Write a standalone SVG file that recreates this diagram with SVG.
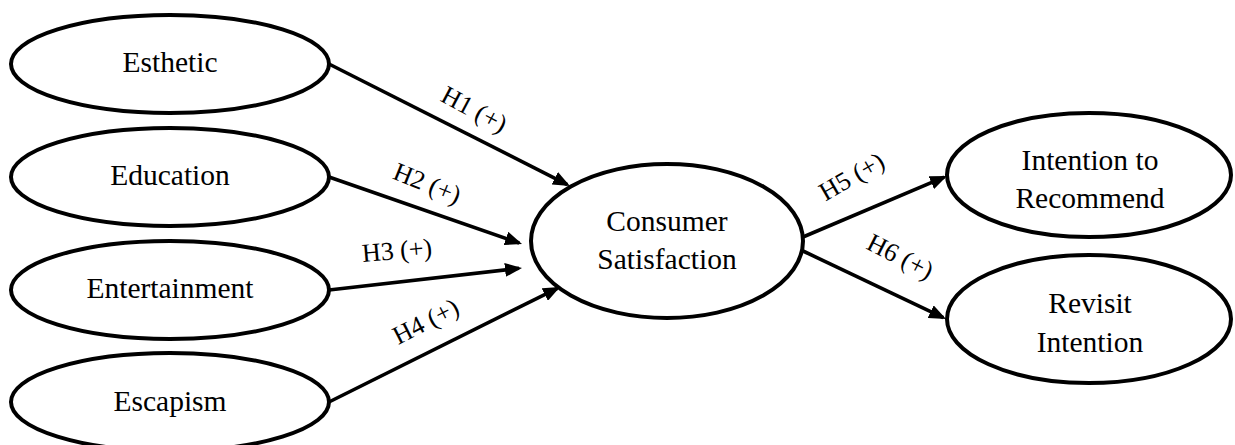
<svg xmlns="http://www.w3.org/2000/svg" width="1235" height="445" viewBox="0 0 1235 445">
<style>
  .node ellipse { fill: #ffffff; stroke: #000000; stroke-width: 4; }
  .node text { font-family: "Liberation Serif", "Times New Roman", serif; font-size: 29.5px; fill: #000000; text-anchor: middle; }
  .edge { fill: none; stroke: #000000; stroke-width: 3.6; marker-end: url(#arrow); }
  .lbl { font-family: "Liberation Serif", "Times New Roman", serif; font-size: 26px; fill: #000000; text-anchor: middle; }
</style>
<defs>
  <marker id="arrow" markerUnits="userSpaceOnUse" markerWidth="18" markerHeight="14" refX="14" refY="7" orient="auto">
    <path d="M0,0 L17,7 L0,14 z" fill="#000000"/>
  </marker>
</defs>
<rect x="0" y="0" width="1235" height="445" fill="#ffffff"/>
<g id="connectors">
  <path class="edge" d="M329,64 L567.3,184.6"/>
  <path class="edge" d="M329,177 L519.2,243"/>
  <path class="edge" d="M329,290 L519,268.3"/>
  <path class="edge" d="M329,402 L557.3,288.3"/>
  <path class="edge" d="M803,237 L944.2,177.2"/>
  <path class="edge" d="M803,251 L943.3,317.7"/>
  <text class="lbl" transform="translate(474,110) rotate(28)" x="0" y="8">H1 (+)</text>
  <text class="lbl" transform="translate(427,184) rotate(22)" x="0" y="8">H2 (+)</text>
  <text class="lbl" transform="translate(397,251) rotate(-5)" x="0" y="8">H3 (+)</text>
  <text class="lbl" transform="translate(426,322) rotate(-27)" x="0" y="8">H4 (+)</text>
  <text class="lbl" transform="translate(852,177) rotate(-30)" x="0" y="8">H5 (+)</text>
  <text class="lbl" transform="translate(900,257) rotate(27)" x="0" y="8">H6 (+)</text>
</g>
<g id="esthetic" class="node">
  <ellipse cx="170" cy="64" rx="159" ry="49"/>
  <text x="170" y="72">Esthetic</text>
</g>
<g id="education" class="node">
  <ellipse cx="170" cy="177" rx="159" ry="49"/>
  <text x="170" y="185">Education</text>
</g>
<g id="entertainment" class="node">
  <ellipse cx="170" cy="290" rx="159" ry="49"/>
  <text x="170" y="298">Entertainment</text>
</g>
<g id="escapism" class="node">
  <ellipse cx="170" cy="402" rx="159" ry="49"/>
  <text x="170" y="411">Escapism</text>
</g>
<g id="consumer-satisfaction" class="node">
  <ellipse cx="667" cy="241" rx="136" ry="77"/>
  <text x="667" y="231">Consumer</text>
  <text x="667" y="269">Satisfaction</text>
</g>
<g id="intention-to-recommend" class="node">
  <ellipse cx="1089" cy="175" rx="142" ry="62"/>
  <text x="1090" y="170">Intention to</text>
  <text x="1090" y="208">Recommend</text>
</g>
<g id="revisit-intention" class="node">
  <ellipse cx="1089" cy="319" rx="142" ry="64"/>
  <text x="1090" y="313">Revisit</text>
  <text x="1090" y="352">Intention</text>
</g>
</svg>
